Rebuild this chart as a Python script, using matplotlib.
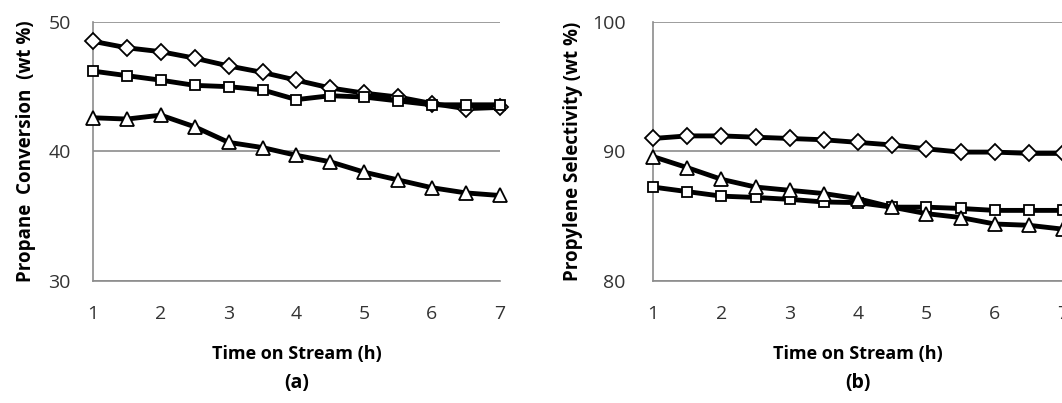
import matplotlib
matplotlib.use("Agg")
import matplotlib.pyplot as plt

plt.rcParams['font.family'] = ['Open Sans', 'DejaVu Sans']

time_h = [1, 1.5, 2, 2.5, 3, 3.5, 4, 4.5, 5, 5.5, 6, 6.5, 7]

# (a) propane conversion, wt %
conv_diamond = [48.5, 48.0, 47.7, 47.2, 46.6, 46.1, 45.5, 44.9, 44.5, 44.2, 43.7, 43.3, 43.4]
conv_square = [46.2, 45.85, 45.5, 45.1, 45.0, 44.75, 44.0, 44.3, 44.2, 43.9, 43.6, 43.6, 43.6]
conv_triangle = [42.6, 42.5, 42.8, 41.9, 40.7, 40.3, 39.7, 39.2, 38.4, 37.8, 37.2, 36.8, 36.6]

# (b) propylene selectivity, wt %
sel_diamond = [91.0, 91.2, 91.2, 91.1, 91.0, 90.9, 90.7, 90.5, 90.2, 89.95, 89.95, 89.85, 89.85]
sel_square = [87.25, 86.9, 86.55, 86.45, 86.3, 86.1, 86.05, 85.7, 85.7, 85.6, 85.45, 85.45, 85.45]
sel_triangle = [89.6, 88.75, 87.85, 87.25, 87.0, 86.75, 86.35, 85.7, 85.2, 84.9, 84.4, 84.3, 84.0]

x_ticks = [1, 2, 3, 4, 5, 6, 7]
grey = '#8c8c8c'

fig = plt.figure(figsize=(10.62, 4.03), dpi=100)
ax_a = fig.add_axes([0.0876, 0.3027, 0.383, 0.643])
ax_b = fig.add_axes([0.615, 0.3027, 0.386, 0.643])


def draw(ax, series, yticks, ylabel, tag, ypad, ylpad):
    styles = [('D', 8.5), ('s', 7.5), ('^', 10)]
    for vals, (m, ms) in zip(series, styles):
        ax.plot(time_h, vals, color='black', lw=3.5, marker=m, ms=ms,
                mfc='white', mec='black', mew=1.3, clip_on=False, zorder=3)
    ax.set_xlim(1, 7)
    ax.set_ylim(yticks[0], yticks[-1])
    ax.set_xticks(x_ticks)
    ax.set_yticks(yticks)
    ax.grid(axis='y', color=grey, lw=1.2)
    ax.set_axisbelow(True)
    for s in ['top', 'right']:
        ax.spines[s].set_visible(False)
    for s in ['left', 'bottom']:
        ax.spines[s].set_color(grey)
        ax.spines[s].set_linewidth(1.2)
    ax.tick_params(length=0, labelsize=14, colors='#333333')
    ax.tick_params(axis='x', pad=17)
    ax.tick_params(axis='y', pad=ypad)
    ax.set_xlabel('Time on Stream (h)', fontsize=13, fontweight='bold', labelpad=16)
    ax.set_ylabel(ylabel, fontsize=13.5, fontweight='bold', labelpad=ylpad)
    ax.text(0.5, -0.395, tag, transform=ax.transAxes, ha='center', va='center',
            fontsize=14, fontweight='bold')


draw(ax_a, [conv_diamond, conv_square, conv_triangle], [30, 40, 50],
     'Propane  Conversion  (wt %)', '(a)', 16, 9)
draw(ax_b, [sel_diamond, sel_square, sel_triangle], [80, 90, 100],
     'Propylene Selectivity (wt %)', '(b)', 20, 6)

fig.savefig('out.png', dpi=100)
